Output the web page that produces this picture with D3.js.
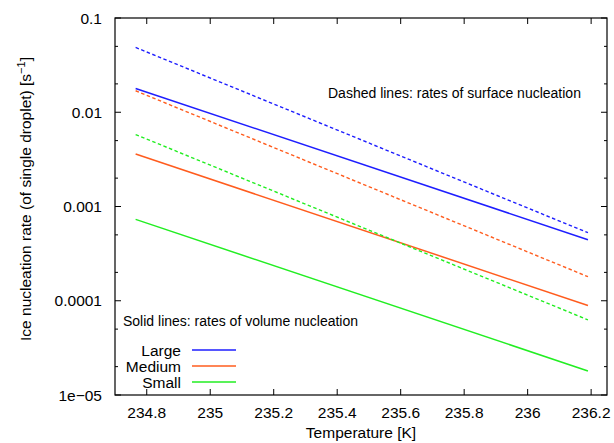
<!DOCTYPE html>
<html><head><meta charset="utf-8">
<script src="https://cdn.jsdelivr.net/npm/d3@7"></script>
<style>body{margin:0;background:#fff}svg{display:block;font-family:"Liberation Sans",Arial,sans-serif}</style>
</head><body><svg id="c" width="614" height="443"></svg>
<script>
const temps = [234.765, 236.19];
const sizes = ["Large", "Medium", "Small"];
const volumeRates = {Large:[0.0179, 0.000444], Medium:[0.0036, 0.000089], Small:[0.00073, 0.000018]};
const surfaceRates = {Large:[0.0487, 0.000527], Medium:[0.0169, 0.000180], Small:[0.0058, 0.0000627]};
const colors = {Large:"#1e1eff", Medium:"#ff5c1e", Small:"#22ee22"};
const xTicks = [234.8, 235, 235.2, 235.4, 235.6, 235.8, 236, 236.2];
const yTicks = [1e-5, 1e-4, 1e-3, 1e-2, 1e-1];
const yTickLabels = ["1e\u221205", "0.0001", "0.001", "0.01", "0.1"];

const svg = d3.select("#c");
const L=115, R=607, T=18, B=395;
const x = d3.scaleLinear().domain([234.7, 236.25]).range([L, R]);
const y = d3.scaleLog().domain([1e-5, 0.1]).range([B, T]);
const minor = [];
yTicks.slice(0,-1).forEach(d => { minor.push(d*2, d*5); });
const FS = 15.5;

const g = svg.append("g");
const tk = 6, mk = 3;
xTicks.forEach(t => {
  g.append("line").attr("x1",x(t)).attr("x2",x(t)).attr("y1",B).attr("y2",B-tk).attr("stroke","#000");
  g.append("line").attr("x1",x(t)).attr("x2",x(t)).attr("y1",T).attr("y2",T+tk).attr("stroke","#000");
  g.append("text").attr("x",x(t)).attr("y",B+23).attr("text-anchor","middle").attr("font-size",FS).attr("fill","#000").text(d3.format("")(t));
});
yTicks.forEach((t,i) => {
  g.append("line").attr("x1",L).attr("x2",L+tk).attr("y1",y(t)).attr("y2",y(t)).attr("stroke","#000");
  g.append("line").attr("x1",R).attr("x2",R-tk).attr("y1",y(t)).attr("y2",y(t)).attr("stroke","#000");
  g.append("text").attr("x",L-13).attr("y",y(t)+5.5).attr("text-anchor","end").attr("font-size",FS).attr("fill","#000").text(yTickLabels[i]);
});
minor.forEach(t => {
  g.append("line").attr("x1",L).attr("x2",L+mk).attr("y1",y(t)).attr("y2",y(t)).attr("stroke","#000");
  g.append("line").attr("x1",R).attr("x2",R-mk).attr("y1",y(t)).attr("y2",y(t)).attr("stroke","#000");
});
g.append("rect").attr("x",L).attr("y",T).attr("width",R-L).attr("height",B-T).attr("fill","none").attr("stroke","#000").attr("stroke-width",1.2);

const line = d3.line().x(d=>x(d[0])).y(d=>y(d[1]));
sizes.forEach(s => {
  svg.append("path").datum(temps.map((t,i)=>[t, surfaceRates[s][i]])).attr("d",line)
    .attr("fill","none").attr("stroke",colors[s]).attr("stroke-width",1.4).attr("stroke-dasharray","3.5,2.5");
  svg.append("path").datum(temps.map((t,i)=>[t, volumeRates[s][i]])).attr("d",line)
    .attr("fill","none").attr("stroke",colors[s]).attr("stroke-width",1.5);
});

svg.append("text").attr("x",328).attr("y",98).attr("font-size",14).text("Dashed lines: rates of surface nucleation");
svg.append("text").attr("x",123).attr("y",326).attr("font-size",14).text("Solid lines: rates of volume nucleation");
sizes.forEach((s,i) => {
  const yy = 350 + i*16;
  svg.append("text").attr("x",181).attr("y",yy+5.5).attr("text-anchor","end").attr("font-size",FS).text(s);
  svg.append("line").attr("x1",192).attr("x2",236).attr("y1",yy).attr("y2",yy).attr("stroke",colors[s]).attr("stroke-width",1.5);
});
svg.append("text").attr("x",361).attr("y",438).attr("text-anchor","middle").attr("font-size",FS).text("Temperature [K]");
const yl = svg.append("text").attr("transform","translate(31,199) rotate(-90)").attr("text-anchor","middle").attr("font-size",FS);
yl.append("tspan").text("Ice nucleation rate (of single droplet) [s");
yl.append("tspan").attr("dy",-6).attr("font-size",11).text("\u22121");
yl.append("tspan").attr("dy",6).text("]");
</script></body></html>
